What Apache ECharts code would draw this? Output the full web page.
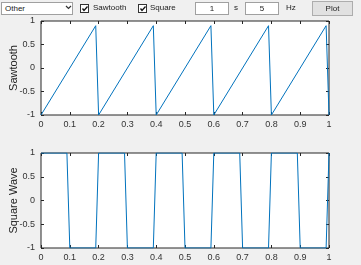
<!DOCTYPE html>
<html><head><meta charset="utf-8">
<script src="https://cdn.jsdelivr.net/npm/echarts@6/dist/echarts.min.js"></script>
<style>
html,body{margin:0;padding:0;background:#f0f0f0;}
#wrap{position:relative;width:361px;height:265px;overflow:hidden;background:#f0f0f0;font-family:"Liberation Sans",Arial,sans-serif;}
#chart{position:absolute;left:0;top:0;width:361px;height:265px;}
.ui{position:absolute;font-size:8px;color:#222;box-sizing:border-box;line-height:12px;}
.box{background:#fff;border:1px solid #a0a0a0;}
.cb{position:absolute;width:9px;height:9px;background:#fff;border:1px solid #333;box-sizing:border-box;}
.cb svg{position:absolute;left:0;top:0;}
</style></head><body>
<div id="wrap">
<div id="chart"></div>
<div class="ui box" style="left:1px;top:2px;width:72px;height:13px;padding-left:3px;" id="dd"></div>
<div class="ui" style="left:65px;top:2px;"><svg width="7" height="10"><path d="M1 4 L3.5 6.5 L6 4" stroke="#333" stroke-width="1.2" fill="none"/></svg></div>
<div class="cb" style="left:80px;top:4px;"><svg width="8" height="8"><path d="M1.5 3.5 L3 5.5 L6.5 1.5" stroke="#111" stroke-width="1.3" fill="none"/></svg></div>
<div class="ui" style="left:93px;top:2px;" id="cb1"></div>
<div class="cb" style="left:138px;top:4px;"><svg width="8" height="8"><path d="M1.5 3.5 L3 5.5 L6.5 1.5" stroke="#111" stroke-width="1.3" fill="none"/></svg></div>
<div class="ui" style="left:150px;top:2px;" id="cb2"></div>
<div class="ui box" style="left:195px;top:2px;width:34px;height:13px;text-align:center;" id="in1"></div>
<div class="ui" style="left:234px;top:2px;" id="u1"></div>
<div class="ui box" style="left:245px;top:2px;width:34px;height:13px;text-align:center;" id="in2"></div>
<div class="ui" style="left:286px;top:2px;" id="u2"></div>
<div class="ui" style="left:312px;top:1px;width:41px;height:15px;background:#e1e1e1;border:1px solid #adadad;text-align:center;line-height:13px;" id="btn"></div>
</div>
<script>
// UI texts
var dropdownText = "Other";
var check1Text = "Sawtooth";
var check2Text = "Square";
var durationText = "1";
var durationUnit = "s";
var freqText = "5";
var freqUnit = "Hz";
var buttonText = "Plot";

// axis tick labels
var xTicks = ["0","0.1","0.2","0.3","0.4","0.5","0.6","0.7","0.8","0.9","1"];
var yTicks = ["-1","-0.5","0","0.5","1"];

// sawtooth vertices (time, value)
var sawTime  = [0, 0.19, 0.2, 0.39, 0.4, 0.59, 0.6, 0.79, 0.8, 0.99, 1];
var sawValue = [-1, 0.9, -1, 0.9, -1, 0.9, -1, 0.9, -1, 0.9, -1];

// square wave vertices (time, value)
var sqTime  = [0, 0.09, 0.1, 0.19, 0.2, 0.29, 0.3, 0.39, 0.4, 0.49, 0.5, 0.59, 0.6, 0.69, 0.7, 0.79, 0.8, 0.89, 0.9, 0.99, 1];
var sqValue = [1, 1, -1, -1, 1, 1, -1, -1, 1, 1, -1, -1, 1, 1, -1, -1, 1, 1, -1, -1, 1];

var yName1 = "Sawtooth";
var yName2 = "Square Wave";

document.getElementById('dd').textContent = dropdownText;
document.getElementById('cb1').textContent = check1Text;
document.getElementById('cb2').textContent = check2Text;
document.getElementById('in1').textContent = durationText;
document.getElementById('u1').textContent = durationUnit;
document.getElementById('in2').textContent = freqText;
document.getElementById('u2').textContent = freqUnit;
document.getElementById('btn').textContent = buttonText;

function zip(a,b){return a.map(function(v,i){return [v,b[i]];});}

var axisColor = '#262626';
var font = '"Liberation Sans", Arial, sans-serif';
var grids = [
  {left:41, top:21, width:288, height:94},
  {left:41, top:153, width:288, height:95}
];
var xAxes=[], yAxes=[];
grids.forEach(function(g,i){
  g.show = true; g.backgroundColor = '#ffffff'; g.borderColor = axisColor; g.borderWidth = 1;
  g.containLabel = false; g.outerBoundsMode = 'none';
  ['bottom','top'].forEach(function(pos){
    xAxes.push({type:'value', gridIndex:i, position:pos, min:0, max:1, interval:0.1,
      axisLine:{show:false, onZero:false}, splitLine:{show:false},
      axisTick:{show:true, inside:true, length:3, lineStyle:{color:axisColor}},
      axisLabel:{show:pos==='bottom', color:'#333', fontSize:9, fontFamily:font, margin:5,
        formatter:function(v){var s=xTicks[Math.round(v*10)]; return s===undefined?'':s;}}
    });
  });
  ['left','right'].forEach(function(pos){
    yAxes.push({type:'value', gridIndex:i, position:pos, min:-1, max:1, interval:0.5,
      name: pos==='left' ? (i===0?yName1:yName2) : '',
      nameLocation:'middle', nameGap:22, nameMoveOverlap:false,
      nameTextStyle:{color:'#222', fontSize:11, fontFamily:font},
      axisLine:{show:false, onZero:false}, splitLine:{show:false},
      axisTick:{show:true, inside:true, length:3, lineStyle:{color:axisColor}},
      axisLabel:{show:pos==='left', color:'#333', fontSize:9, fontFamily:font, margin:6,
        formatter:function(v){var s=yTicks[Math.round((v+1)*2)]; return s===undefined?'':s;}}
    });
  });
});

var chart = echarts.init(document.getElementById('chart'), null, {renderer:'canvas'});
chart.setOption({
  animation:false,
  backgroundColor:'#f0f0f0',
  grid: grids,
  xAxis: xAxes,
  yAxis: yAxes,
  series: [
    {type:'line', xAxisIndex:0, yAxisIndex:0, data:zip(sawTime,sawValue), showSymbol:false, lineStyle:{color:'#0072BD', width:1}},
    {type:'line', xAxisIndex:2, yAxisIndex:2, data:zip(sqTime,sqValue), showSymbol:false, lineStyle:{color:'#0072BD', width:1}}
  ]
});
</script>
</body></html>
